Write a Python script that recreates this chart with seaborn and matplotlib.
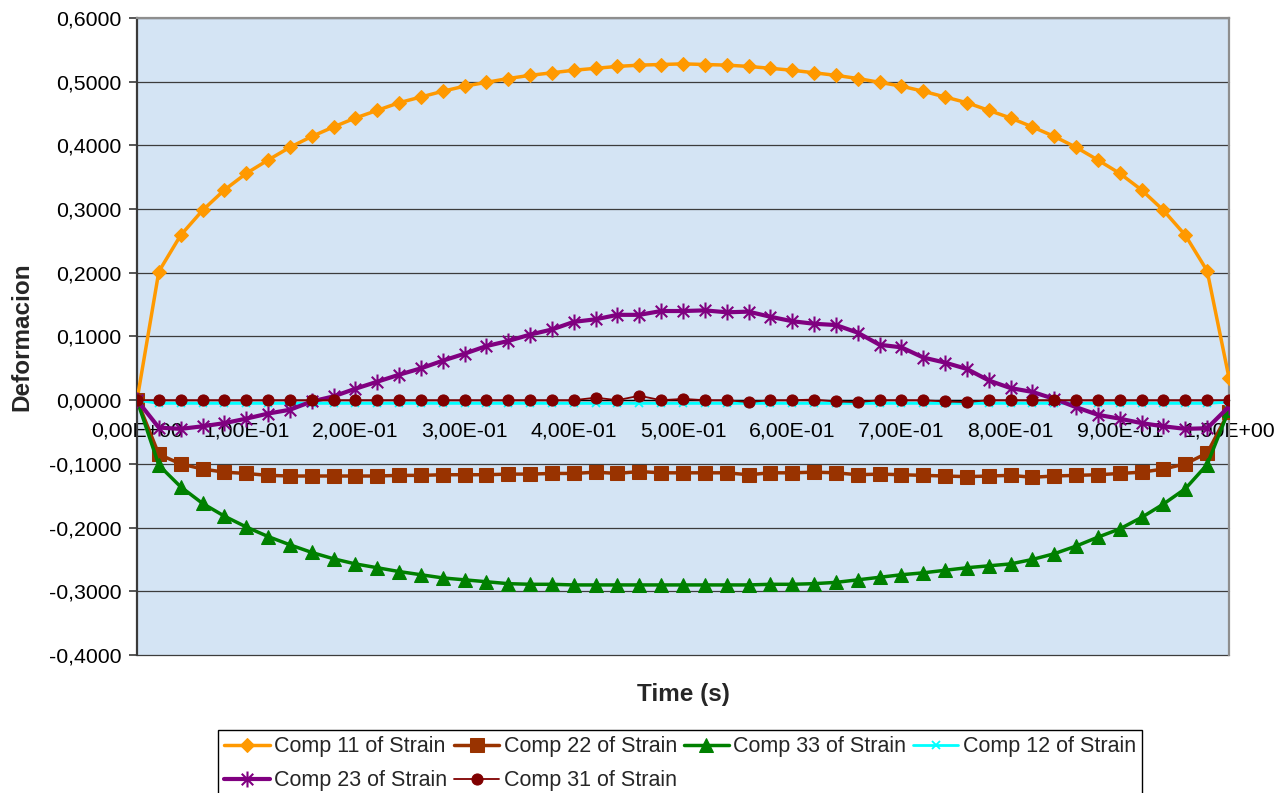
import numpy as np
import pandas as pd
import matplotlib
matplotlib.use("Agg")
import matplotlib.pyplot as plt
import seaborn as sns
from matplotlib.path import Path

# Sample times (s)
time_s = [0.00, 0.02, 0.04, 0.06, 0.08, 0.10, 0.12, 0.14, 0.16, 0.18,
          0.20, 0.22, 0.24, 0.26, 0.28, 0.30, 0.32, 0.34, 0.36, 0.38,
          0.40, 0.42, 0.44, 0.46, 0.48, 0.50, 0.52, 0.54, 0.56, 0.58,
          0.60, 0.62, 0.64, 0.66, 0.68, 0.70, 0.72, 0.74, 0.76, 0.78,
          0.80, 0.82, 0.84, 0.86, 0.88, 0.90, 0.92, 0.94, 0.96, 0.98, 1.00]

# Strain components
comp11 = [0.000, 0.202, 0.259, 0.298, 0.330, 0.356, 0.377, 0.397, 0.414, 0.429,
          0.443, 0.455, 0.467, 0.476, 0.485, 0.493, 0.499, 0.505, 0.510, 0.514,
          0.518, 0.521, 0.524, 0.526, 0.527, 0.528, 0.527, 0.526, 0.524, 0.521,
          0.518, 0.514, 0.510, 0.505, 0.499, 0.493, 0.485, 0.476, 0.467, 0.455,
          0.443, 0.429, 0.414, 0.397, 0.377, 0.356, 0.330, 0.298, 0.259, 0.203, 0.035]
comp22 = [0.000, -0.085, -0.100, -0.108, -0.113, -0.115, -0.118, -0.119, -0.119, -0.119,
          -0.119, -0.119, -0.118, -0.118, -0.117, -0.117, -0.117, -0.116, -0.116, -0.115,
          -0.115, -0.113, -0.115, -0.112, -0.114, -0.114, -0.114, -0.114, -0.117, -0.114,
          -0.114, -0.113, -0.114, -0.117, -0.116, -0.117, -0.118, -0.119, -0.120, -0.119,
          -0.118, -0.121, -0.119, -0.118, -0.117, -0.115, -0.113, -0.108, -0.100, -0.083, -0.018]
comp33 = [0.000, -0.102, -0.136, -0.162, -0.182, -0.199, -0.214, -0.227, -0.239, -0.249,
          -0.257, -0.263, -0.269, -0.274, -0.279, -0.282, -0.285, -0.288, -0.289, -0.289,
          -0.290, -0.290, -0.290, -0.290, -0.290, -0.290, -0.290, -0.290, -0.290, -0.289,
          -0.289, -0.288, -0.286, -0.282, -0.278, -0.274, -0.271, -0.267, -0.263, -0.260,
          -0.257, -0.250, -0.241, -0.229, -0.215, -0.202, -0.184, -0.163, -0.139, -0.101, -0.015]
comp12 = [0.000] + [-0.005] * 49 + [-0.003]
comp23 = [0.000, -0.043, -0.045, -0.041, -0.036, -0.029, -0.021, -0.015, -0.002, 0.006,
          0.018, 0.029, 0.040, 0.050, 0.062, 0.073, 0.085, 0.093, 0.103, 0.111,
          0.123, 0.127, 0.134, 0.134, 0.140, 0.140, 0.141, 0.138, 0.139, 0.131,
          0.124, 0.120, 0.118, 0.106, 0.087, 0.083, 0.067, 0.059, 0.049, 0.031,
          0.019, 0.013, 0.002, -0.011, -0.023, -0.029, -0.036, -0.041, -0.045, -0.044, -0.010]
comp31 = [0.000, 0.000, 0.000, 0.000, 0.000, 0.000, 0.000, 0.000, 0.000, 0.000,
          0.000, 0.000, 0.000, 0.000, 0.000, 0.000, 0.000, 0.000, 0.000, 0.000,
          0.000, 0.004, 0.000, 0.007, 0.000, 0.002, 0.000, 0.000, -0.003, 0.000,
          0.000, 0.001, -0.002, -0.003, 0.000, 0.000, 0.000, -0.002, -0.003, 0.000,
          0.000, 0.000, 0.000, 0.000, 0.000, 0.000, 0.000, 0.000, 0.000, 0.000, 0.000]

series_names = ["Comp 11 of Strain", "Comp 22 of Strain", "Comp 33 of Strain",
                "Comp 12 of Strain", "Comp 23 of Strain", "Comp 31 of Strain"]

x_tick_values = [0.0, 0.1, 0.2, 0.3, 0.4, 0.5, 0.6, 0.7, 0.8, 0.9, 1.0]
x_tick_labels = ["0,00E+00", "1,00E-01", "2,00E-01", "3,00E-01", "4,00E-01", "5,00E-01",
                 "6,00E-01", "7,00E-01", "8,00E-01", "9,00E-01", "1,00E+00"]
y_tick_values = [-0.4, -0.3, -0.2, -0.1, 0.0, 0.1, 0.2, 0.3, 0.4, 0.5, 0.6]
y_tick_labels = ["-0,4000", "-0,3000", "-0,2000", "-0,1000", "0,0000", "0,1000",
                 "0,2000", "0,3000", "0,4000", "0,5000", "0,6000"]

sns.set_theme(style="white")
plt.rcParams['font.family'] = ['Liberation Sans', 'DejaVu Sans']

W, H = 1281, 793
fig = plt.figure(figsize=(W / 100, H / 100), dpi=100)
ax = fig.add_axes([137 / W, 1 - 655 / H, (1229 - 137) / W, (655 - 18) / H])
ax.set_facecolor('#d4e4f4')

# six-armed star (vertical bar plus an X)
star = Path([(0, -1), (0, 1), (-0.72, -0.72), (0.72, 0.72), (-0.72, 0.72), (0.72, -0.72)],
            [Path.MOVETO, Path.LINETO, Path.MOVETO, Path.LINETO, Path.MOVETO, Path.LINETO])

styles = [
    dict(color='#FF9900', marker='D', markersize=7.6, linewidth=2.5),
    dict(color='#993300', marker='s', markersize=9.4, linewidth=2.5),
    dict(color='#008000', marker='^', markersize=10.2, linewidth=2.5),
    dict(color='#00FFFF', marker='x', markersize=6.2, linewidth=2.0, markeredgewidth=1.3),
    dict(color='#800080', marker=star, markersize=11.5, linewidth=3.0, markeredgewidth=1.5),
    dict(color='#800000', marker='o', markersize=8.0, linewidth=1.3),
]

data = [comp11, comp22, comp33, comp12, comp23, comp31]
for name, vals, st in zip(series_names, data, styles):
    df = pd.DataFrame({"Time": time_s, "Strain": vals})
    sns.lineplot(data=df, x="Time", y="Strain", ax=ax, label=name,
                 markeredgecolor=st['color'], zorder=3, **st)

ax.set_xlim(0, 1)
ax.set_ylim(-0.4, 0.6)
ax.set_xticks(x_tick_values)
ax.set_xticklabels(x_tick_labels)
ax.set_yticks(y_tick_values)
ax.set_yticklabels(y_tick_labels)
ax.set_xlabel("")
ax.set_ylabel("")

ax.yaxis.grid(True, color='#3c3c3c', linewidth=0.9)
ax.xaxis.grid(False)
for gl in ax.get_ygridlines():
    gl.set_clip_on(False)

ax.spines['bottom'].set_position(('data', 0))
ax.spines['bottom'].set_color('black')
ax.spines['bottom'].set_linewidth(1.0)
ax.spines['left'].set_color('#3a3a3a')
ax.spines['left'].set_linewidth(1.6)
for side in ('top', 'right'):
    ax.spines[side].set_color('#8e8e8e')
    ax.spines[side].set_linewidth(1.6)

ax.tick_params(axis='x', length=0, pad=15, labelsize=15.3, labelcolor='black')
ax.tick_params(axis='y', direction='out', length=6, width=1.2, color='#3a3a3a',
               pad=5, labelsize=15.3, labelcolor='black', left=True)

fig.text(22 / W, 1 - 337 / H, "Deformacion", rotation=90, ha='center', va='center',
         fontsize=17.5, fontweight='bold')
fig.text(683 / W, 1 - 694 / H, "Time (s)", ha='center', va='center',
         fontsize=17.5, fontweight='bold')

handles, labels = ax.get_legend_handles_labels()
ax.get_legend().remove()
order = [0, 4, 1, 5, 2, 3]
leg = fig.legend([handles[i] for i in order], [labels[i] for i in order],
                 loc='upper left', bbox_to_anchor=(218 / W, 1 - 730 / H),
                 ncol=4, frameon=True, fancybox=False, edgecolor='black',
                 framealpha=1, fontsize=15.5, handlelength=2.1, handletextpad=0.2,
                 columnspacing=0.32, labelspacing=0.6, borderpad=0.3, borderaxespad=0)
leg.get_frame().set_linewidth(1.0)

fig.savefig("out.png", dpi=100, facecolor='white')
